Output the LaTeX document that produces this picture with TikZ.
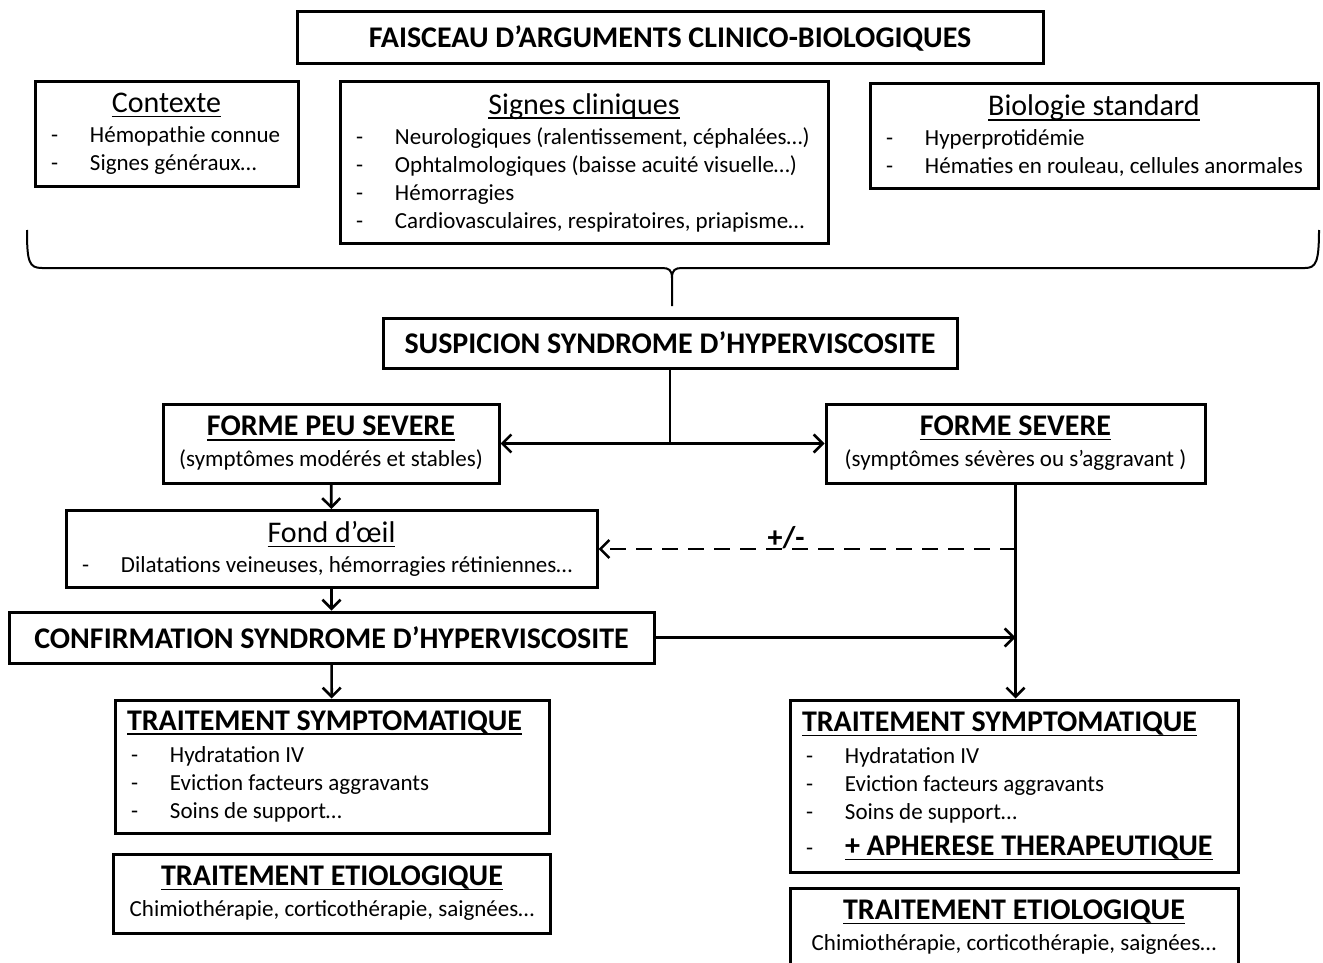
\documentclass[tikz,border=0pt]{standalone}
\usepackage{fontspec}
\setmainfont{Carlito}
\usetikzlibrary{arrows.meta,positioning}

\newcommand{\titlefont}{\fontsize{15}{18}\selectfont}
\newcommand{\headfont}{\fontsize{15}{18}\selectfont\bfseries}
\newcommand{\itemfont}{\fontsize{11.5}{14}\selectfont}
\newcommand{\nsp}{\spaceskip=0pt\xspaceskip=0pt\relax}
\newcommand{\undl}[1]{\setbox0\hbox{#1}\rlap{\rule[-2.3pt]{\wd0}{0.8pt}}\box0}
\newcommand{\itm}[1]{\mbox{\nsp\makebox[19.5pt][l]{-}#1}}
\newcommand{\ctr}[1]{\makebox[\linewidth]{\nsp#1}}
\newcommand{\lefthead}[1]{\mbox{\nsp\headfont\undl{#1}}}

\begin{document}
\begin{tikzpicture}[x=0.5pt,y=-0.5pt,>={Straight Barb[length=4.5pt,width=9pt]},
  box/.style={draw,line width=1.5pt,inner xsep=8pt,inner ysep=2pt},
  headbox/.style={box,font=\headfont,align=center},
  twobox/.style={box,font=\itemfont,align=center},
  listbox/.style={box,font=\itemfont,align=left},
  link/.style={->,line width=1.3pt}]

\useasboundingbox (0,0) rectangle (1323,963);
\clip (0,0) rectangle (1323,963);

% --- arguments ---
\node[headbox,minimum width=373pt,minimum height=26pt] (faisceau) at (670,38)
  {FAISCEAU D’ARGUMENTS CLINICO-BIOLOGIQUES};
\node[listbox,text width=115.5pt,minimum height=52.5pt] (contexte) at (166.5,134)
  {\ctr{\titlefont\undl{Contexte}}\\[1pt]
   \itm{Hémopathie connue}\\
   \itm{Signes généraux…}};
\node[listbox,text width=228pt,minimum height=81pt] (signes) at (584,162.5)
  {\ctr{\titlefont\undl{Signes cliniques}}\\[1pt]
   \itm{Neurologiques (ralentissement, céphalées…)}\\
   \itm{Ophtalmologiques (baisse acuité visuelle…)}\\
   \itm{Hémorragies}\\
   \itm{Cardiovasculaires, respiratoires, priapisme…}};
\node[listbox,text width=208pt,minimum height=52.5pt] (biologie) at (1094,136)
  {\ctr{\titlefont\undl{Biologie standard}}\\[1pt]
   \itm{Hyperprotidémie}\\
   \itm{Hématies en rouleau, cellules anormales}};

% --- accolade ---
\draw[line width=1pt] (27,230) .. controls (27,262) and (29,268) .. (42,268) -- (662,268)
  .. controls (669,268) and (672,270) .. (672,278) -- (672,306);
\draw[line width=1pt] (672,278) .. controls (672,270) and (675,268) .. (682,268) -- (1305,268)
  .. controls (1316,268) and (1319,262) .. (1319,230);

% --- suspicion ---
\node[headbox,minimum width=287pt,minimum height=25pt] (susp) at (670,343)
  {SUSPICION SYNDROME D’HYPERVISCOSITE};
\node[twobox,minimum width=168pt,minimum height=39.5pt] (peu) at (331,443.5)
  {{\headfont\undl{FORME PEU SEVERE}}\\[1.5pt](symptômes modérés et stables)};
\node[twobox,minimum width=189.5pt,minimum height=39.5pt] (sev) at (1015.5,443.5)
  {{\headfont\undl{FORME SEVERE}}\\[1.5pt](symptômes sévères ou s’aggravant )};
\node[listbox,text width=249.5pt,minimum height=38.5pt] (fond) at (331.5,549)
  {\ctr{\titlefont\undl{Fond d’œil}}\\[1pt]
   \itm{Dilatations veineuses, hémorragies rétiniennes…}};
\node[headbox,minimum width=322.5pt,minimum height=25.5pt] (conf) at (331.5,637.5)
  {CONFIRMATION SYNDROME D’HYPERVISCOSITE};

% --- traitements ---
\node[listbox,text width=201pt,minimum height=66.5pt] (tsl) at (332,766.5)
  {\hspace*{-2pt}\lefthead{TRAITEMENT SYMPTOMATIQUE}\\[2pt]
   \itm{Hydratation IV}\\
   \itm{Eviction facteurs aggravants}\\
   \itm{Soins de support…}};
\node[twobox,minimum width=217pt,minimum height=39.5pt] (tel) at (332,893.5)
  {{\headfont\undl{TRAITEMENT ETIOLOGIQUE}}\\[1.5pt]Chimiothérapie, corticothérapie, saignées…};
\node[listbox,text width=208pt,minimum height=86pt] (tsr) at (1014,786)
  {\hspace*{-2pt}\lefthead{TRAITEMENT SYMPTOMATIQUE}\\[2pt]
   \itm{Hydratation IV}\\
   \itm{Eviction facteurs aggravants}\\
   \itm{Soins de support…}\\[4pt]
   \itm{\headfont\undl{+ APHERESE THERAPEUTIQUE}}};
\node[twobox,minimum width=224pt,minimum height=39.5pt] (ter) at (1014,927.5)
  {{\headfont\undl{TRAITEMENT ETIOLOGIQUE}}\\[1.5pt]Chimiothérapie, corticothérapie, saignées…};

% --- fleches ---
\draw[line width=1.3pt] (susp.south) -- (susp.south |- peu.east) coordinate (split);
\draw[link] (split) -- (peu.east);
\draw[link] (split) -- (sev.west);
\draw[link] (peu) -- (fond);
\draw[link] (fond) -- (conf);
\draw[link] (conf) -- (tsl);
\draw[link] (sev.south) -- (sev.south |- tsr.north);
\draw[link] (conf.east) -- (sev.south |- conf.east);
\draw[link,dash pattern=on 8pt off 5pt] (sev.south |- fond.east)
  -- node[above=-4pt,pos=0.55,font=\headfont] (pm) {+/-} (fond.east);

\end{tikzpicture}
\end{document}
